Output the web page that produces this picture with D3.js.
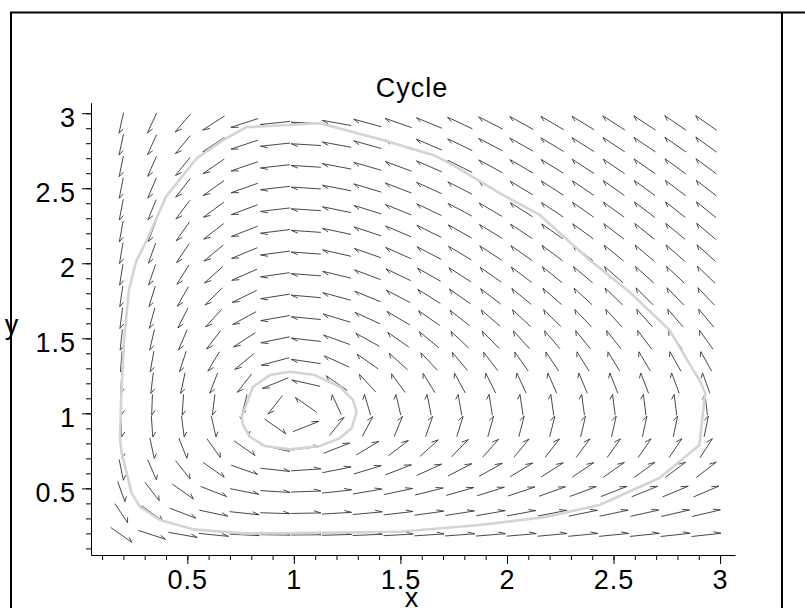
<!DOCTYPE html>
<html>
<head>
<meta charset="utf-8">
<script src="https://cdn.jsdelivr.net/npm/d3@7"></script>
<style>
  body { margin: 0; background: #fff; }
  text { font-family: "Liberation Sans", Arial, sans-serif; letter-spacing: 1px; }
</style>
</head>
<body>
<svg id="chart" width="805" height="608"></svg>
<script>
// system: dx/dt = x*(a - b*y), dy/dt = y*(c*x - d)
const preyRates = [1, 1];
const predatorRates = [1, 1];

// arrow grid (centres of first and last arrow, count per side)
const gridStart = 0.19;
const gridEnd = 2.935;
const gridCount = 20;

const xTicks = [0.5, 1, 1.5, 2, 2.5, 3];
const yTicks = [0.5, 1, 1.5, 2, 2.5, 3];

// outer orbit
const outerX = [1.0, 0.762, 0.526, 0.372, 0.278, 0.239, 0.216, 0.192, 0.184, 0.189, 0.203, 0.226, 0.259, 0.317, 0.4, 0.544, 0.669, 0.778, 0.841, 1.122, 1.417, 1.652, 1.731, 1.966, 2.154, 2.388, 2.575, 2.762, 2.911, 2.93, 2.903, 2.716, 2.434, 2.181, 1.872, 1.497, 1.0];
const outerY = [0.202, 0.2, 0.227, 0.289, 0.377, 0.467, 0.6, 0.735, 0.822, 1.089, 1.489, 1.822, 2.009, 2.177, 2.444, 2.7, 2.822, 2.907, 2.911, 2.933, 2.822, 2.722, 2.667, 2.467, 2.322, 2.022, 1.809, 1.556, 1.2, 1.135, 0.789, 0.569, 0.389, 0.309, 0.256, 0.211, 0.202];

// inner orbit
const innerX = [0.755, 0.808, 0.887, 0.981, 1.098, 1.216, 1.277, 1.294, 1.272, 1.216, 1.122, 0.981, 0.864, 0.794, 0.761, 0.755];
const innerY = [0.977, 1.177, 1.255, 1.277, 1.255, 1.177, 1.089, 1.011, 0.902, 0.835, 0.782, 0.76, 0.782, 0.844, 0.922, 0.977];

const svg = d3.select('#chart');

const x = d3.scaleLinear().domain([0.048, 3.07]).range([91, 735]);
const y = d3.scaleLinear().domain([0.056, 3.07]).range([555, 102.7]);

// frame
svg.append('path')
  .attr('d', 'M11,608 V12.5 H805 M782,12.5 V608')
  .attr('fill', 'none')
  .attr('stroke', '#000')
  .attr('stroke-width', 2);

// direction field
const arrowLen = 0.14;
const barbLen = 0.036;
const barbAng = 25 * Math.PI / 180;
const step = (gridEnd - gridStart) / (gridCount - 1);
const cells = [];
for (let i = 0; i < gridCount; i++) {
  for (let j = 0; j < gridCount; j++) {
    cells.push({px: gridStart + i * step, py: gridStart + j * step});
  }
}

function arrowPath(d) {
  const vx = d.px * (preyRates[0] - preyRates[1] * d.py);
  const vy = d.py * (predatorRates[0] * d.px - predatorRates[1]);
  const n = Math.hypot(vx, vy) || 1;
  const ux = vx / n, uy = vy / n;
  const x0 = d.px - ux * arrowLen / 2, y0 = d.py - uy * arrowLen / 2;
  const x1 = d.px + ux * arrowLen / 2, y1 = d.py + uy * arrowLen / 2;
  // barb: back direction turned clockwise
  const bx = -ux * Math.cos(barbAng) - uy * Math.sin(barbAng);
  const by = ux * Math.sin(barbAng) - uy * Math.cos(barbAng);
  const x2 = x1 + bx * barbLen, y2 = y1 + by * barbLen;
  return `M${x(x0)},${y(y0)}L${x(x1)},${y(y1)}L${x(x2)},${y(y2)}`;
}

svg.append('g')
  .selectAll('path')
  .data(cells)
  .enter()
  .append('path')
  .attr('d', arrowPath)
  .attr('fill', 'none')
  .attr('stroke', '#333')
  .attr('stroke-width', 0.9);

// orbits
const line = d3.line().x(d => x(d[0])).y(d => y(d[1]));
[[outerX, outerY], [innerX, innerY]].forEach(function(o) {
  svg.append('path')
    .datum(d3.zip(o[0], o[1]))
    .attr('d', line)
    .attr('fill', 'none')
    .attr('stroke', '#d4d4d4')
    .attr('stroke-width', 2.6)
    .attr('stroke-linejoin', 'round');
});

// axes
const minorX = d3.range(1, 31).map(v => v / 10).filter(v => v <= 3.07);
const minorY = d3.range(1, 31).map(v => v / 10);

svg.append('g')
  .attr('transform', 'translate(0,555)')
  .call(d3.axisBottom(x).tickValues(minorX).tickSize(5).tickSizeOuter(0).tickFormat(''));
svg.append('g')
  .attr('transform', 'translate(0,555)')
  .call(d3.axisBottom(x).tickValues(xTicks).tickSize(9).tickSizeOuter(0).tickPadding(6).tickFormat(d3.format('')))
  .call(g => g.select('.domain').remove());

svg.append('g')
  .attr('transform', 'translate(91,0)')
  .call(d3.axisLeft(y).tickValues(minorY).tickSize(5).tickSizeOuter(0).tickFormat(''));
svg.append('g')
  .attr('transform', 'translate(91,0)')
  .call(d3.axisLeft(y).tickValues(yTicks).tickSize(9).tickSizeOuter(0).tickPadding(6).tickFormat(d3.format('')))
  .call(g => g.select('.domain').remove())
  .selectAll('text').attr('dy', '0.48em');

svg.selectAll('.tick text')
  .attr('font-family', '"Liberation Sans", Arial, sans-serif')
  .attr('font-size', 27)
  .attr('fill', '#000');

// title and axis labels
svg.append('text')
  .attr('x', 412).attr('y', 97)
  .attr('text-anchor', 'middle')
  .attr('font-size', 27)
  .text('Cycle');

svg.append('text')
  .attr('x', 412).attr('y', 607)
  .attr('text-anchor', 'middle')
  .attr('font-size', 27)
  .text('x');

svg.append('text')
  .attr('x', 12).attr('y', 334)
  .attr('text-anchor', 'middle')
  .attr('font-size', 27)
  .text('y');
</script>
</body>
</html>
